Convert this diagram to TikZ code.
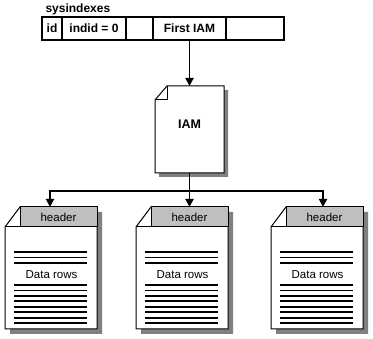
\documentclass[tikz,border=0pt]{standalone}
\usepackage{fontspec}
\setmainfont{Liberation Sans}
\usetikzlibrary{arrows.meta,positioning}

\tikzset{
  cell/.style={draw, line width=1.2pt, minimum height=23pt, inner sep=0pt, outer sep=0pt,
    font=\bfseries\fontsize{12}{12}\selectfont},
  conn/.style={line width=1.8pt},
  tip/.style={-{Triangle[length=8pt,width=8pt]}},
  shade/.style={fill=black!50},
  pageline/.style={line width=1pt},
  hdrbox/.style={draw, fill=black!25, line width=1pt, minimum width=77pt, minimum height=20pt,
    inner sep=0pt, outer sep=0pt, font=\fontsize{11.5}{12}\selectfont},
  rows/.style={line width=1.8pt},
}

\begin{document}
\begin{tikzpicture}[x=1pt, y=-1pt]
    \useasboundingbox (0,0) rectangle (373,339);

    % sysindexes row
    \node[anchor=base west, font=\bfseries\fontsize{12}{12}\selectfont] (sysidx) at (42,13) {sysindexes};
    \node[cell, minimum width=20pt, anchor=north west] (id) at (42,17) {id};
    \node[cell, minimum width=64pt, right=0pt of id] (indid) {indid = 0};
    \node[cell, minimum width=27pt, right=0pt of indid] (blank1) {};
    \node[cell, minimum width=73pt, right=0pt of blank1] (firstiam) {First IAM};
    \node[cell, minimum width=58pt, right=0pt of firstiam] (blank2) {};

    % IAM page
    \fill[shade] (159,104) -- (171,90) -- (228,90) -- (228,177) -- (159,177) -- cycle;
    \draw[pageline, fill=white] (155,100) -- (167,86) -- (224,86) -- (224,173) -- (155,173) -- cycle;
    \draw[pageline] (155,100) -- (167,100) -- (167,86);
    \node[minimum width=69pt, minimum height=87pt, inner sep=0pt, outer sep=0pt] (iam) at (189.5,129.5) {};
    \node[font=\bfseries\fontsize{12.5}{12}\selectfont] (iamlbl) at (189.5,124) {IAM};

    % data pages
    \foreach \i/\xl/\xa in {1/5/50, 2/136/189.5, 3/271/323} {
        \begin{scope}[shift={(\xl,0)}]
            \fill[shade] (5,232) -- (20,212) -- (97,212) -- (97,334) -- (5,334) -- cycle;
            \draw[pageline, fill=white] (0,227) -- (15,207) -- (92,207) -- (92,329) -- (0,329) -- cycle;
            \node[hdrbox, anchor=north west] (hdr\i) at (15,207) {header};
            \draw[pageline] (0,227) -- (15,227);
            \foreach \y in {252,257.5,263}
                \draw[rows] (9,\y) -- (82,\y);
            \node[font=\fontsize{11.5}{12}\selectfont] (rows\i) at (46.5,275) {Data rows};
            \foreach \k in {0,...,7}
                \draw[rows] (9,285+5.45*\k) -- (82,285+5.45*\k);
            \coordinate (in\i) at (\xa-\xl,207);
        \end{scope}
    }

    % connectors
    \coordinate (bus) at (189.5,191);
    \draw[conn, tip] (firstiam.south) -- (iam.north);
    \draw[conn] (iam.south) -- (bus);
    \draw[conn, tip] (bus) -| (in1);
    \draw[conn, tip] (bus) -- (in2);
    \draw[conn, tip] (bus) -| (in3);
\end{tikzpicture}
\end{document}
